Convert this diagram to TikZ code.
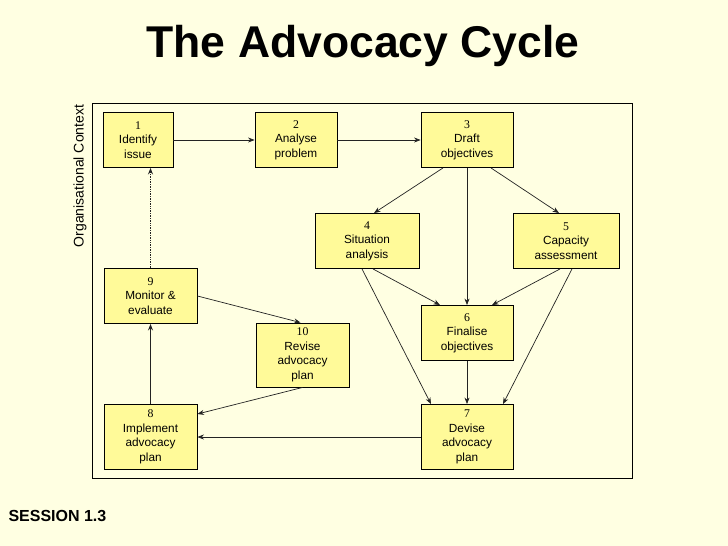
\documentclass[tikz,border=0pt]{standalone}
\usepackage{fontspec}
\setmainfont{Liberation Sans}
\newfontfamily\numfont{Liberation Serif}
\usetikzlibrary{positioning,arrows.meta,calc}

\definecolor{bgyellow}{RGB}{255,255,226}
\definecolor{boxyellow}{RGB}{255,250,153}
\definecolor{lineclr}{RGB}{35,35,35}
\newcommand{\stepno}[1]{{\numfont #1}}

\begin{document}
\begin{tikzpicture}[x=1pt,y=-1pt,
  stagebox/.style={rectangle,draw=black,line width=0.9pt,fill=boxyellow,inner sep=0pt,align=center,minimum width=#1,minimum height=55pt,font=\fontsize{11.8}{14.5}\selectfont},
  flow/.style={-{Stealth[length=6.5pt,width=5pt]},line width=0.7pt,draw=lineclr},
  lab/.style={font=\fontsize{14}{16}\selectfont},
]

% === PAGE AND FRAME ===
\fill[bgyellow] (0,0) rectangle (728,546);
\useasboundingbox (0,0) rectangle (728,546);
\node[draw=black,line width=1pt,minimum width=540pt,minimum height=375pt,inner sep=0pt] (frame) at (362,290.5) {};

\node[font=\fontsize{44.5}{50}\selectfont\bfseries,anchor=base] (title) at (363,57) {The Advocacy Cycle};
\node[lab,rotate=90] (ctx) at (80,176) {Organisational Context};
\node[font=\fontsize{16}{18}\selectfont\bfseries,anchor=base west] (session) at (5,521) {SESSION 1.3};

% === TOP ROW ===
\node[stagebox=70pt] (b1) at (138,140) {\stepno{1}\\Identify\\issue};
\node[stagebox=82pt] (b2) at (296,140) {\stepno{2}\\Analyse\\problem};
\node[stagebox=92pt] (b3) at (467,140) {\stepno{3}\\Draft\\objectives};

% === ASSESSMENT ===
\node[stagebox=104pt] (b4) at (367,241) {\stepno{4}\\Situation\\analysis};
\node[stagebox=106pt] (b5) at (566,241) {\stepno{5}\\Capacity\\assessment};
\node[stagebox=92pt] (b6) at (467,333) {\stepno{6}\\Finalise\\objectives};

% === PLAN AND ACT ===
\node[stagebox=92pt,minimum height=65pt] (b7) at (467,437) {\stepno{7}\\Devise\\advocacy\\plan};
\node[stagebox=93pt,minimum height=65pt] (b8) at (150.5,437) {\stepno{8}\\Implement\\advocacy\\plan};
\node[stagebox=93pt] (b9) at (150.5,296) {\stepno{9}\\Monitor \&\\evaluate};
\node[stagebox=93pt,minimum height=64pt] (b10) at (302.5,355) {\stepno{10}\\Revise\\advocacy\\plan};

% === CONNECTORS ===
\draw[flow] (b1) -- (b2);
\draw[flow] (b2) -- (b3);
\draw[flow] ([xshift=-24pt]b3.south) -- ([xshift=7pt]b4.north);
\draw[flow] ([xshift=24pt]b3.south) -- ([xshift=-7pt]b5.north);
\draw[flow] (b3) -- (b6);
\draw[flow] ([xshift=6pt]b4.south) -- ([xshift=-27pt]b6.north);
\draw[flow] ([xshift=-5pt]b4.south) -- ([xshift=-36pt]b7.north);
\draw[flow] ([xshift=-6pt]b5.south) -- ([xshift=25pt]b6.north);
\draw[flow] ([xshift=6pt]b5.south) -- ([xshift=36pt]b7.north);
\draw[flow] (b6) -- (b7);
\draw[flow] (b7) -- (b8);
\draw[flow] (b8) -- (b9);
\draw[flow,densely dotted] (b9.north) -- (b9.north |- b1.south);
\draw[flow] (b9.east) -- ([xshift=-2pt]b10.north);
\draw[flow] (b10.south) -- ([yshift=23pt]b8.east);

\end{tikzpicture}
\end{document}
